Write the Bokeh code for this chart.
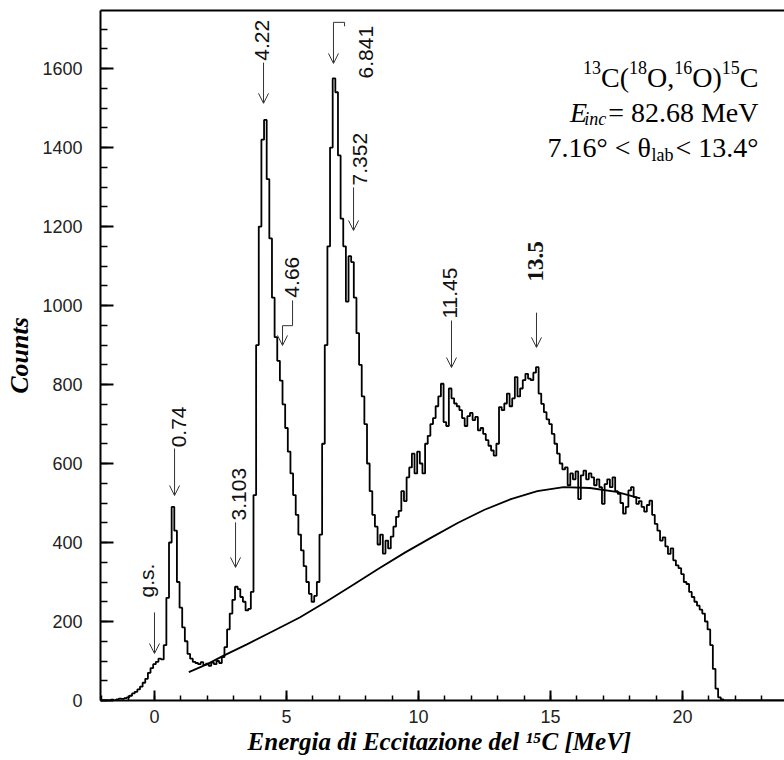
import math
from bokeh.plotting import figure
from bokeh.models import (ColumnDataSource, Range1d, SingleIntervalTicker, LinearAxis,
                          FixedTicker, Arrow, OpenHead)
from bokeh.core.properties import value
from bokeh.embed import file_html
from bokeh.resources import INLINE

# ---------------- data ----------------
first_bin = -2.0
bin_width = 0.1
counts = [
    0, 0, 0, 0, 2, 0, 3, 5, 4, 6,                      # -2.0 .. -1.1
    8, 12, 18, 22, 28, 35, 45, 55, 70, 82,              # -1.0 .. -0.1
    92, 98, 106, 104, 140, 260, 400, 490, 430, 300,     # 0.0 .. 0.9
    235, 185, 150, 118, 106, 98, 95, 92, 97, 90,        # 1.0 .. 1.9
    93, 88, 96, 92, 100, 95, 110, 135, 180, 220,        # 2.0 .. 2.9
    255, 288, 282, 262, 250, 228, 232, 275, 520, 900,   # 3.0 .. 3.9
    1200, 1420, 1470, 1320, 1170, 1020, 920, 860, 810, 750,  # 4.0 .. 4.9
    690, 630, 575, 520, 470, 420, 380, 340, 300, 270,   # 5.0 .. 5.9
    250, 265, 300, 420, 650, 900, 1150, 1400, 1575, 1540,  # 6.0 .. 6.9
    1380, 1220, 1150, 1010, 1125, 1110, 1020, 930, 850, 770,  # 7.0 .. 7.9
    700, 600, 530, 470, 440, 395, 420, 372, 405, 385,   # 8.0 .. 8.9
    415, 440, 465, 480, 530, 505, 565, 590, 625, 575,   # 9.0 .. 9.9
    630, 600, 575, 650, 670, 700, 715, 745, 770, 802,   # 10.0 .. 10.9
    705, 695, 790, 765, 752, 745, 735, 715, 695, 720,   # 11.0 .. 11.9
    728, 710, 718, 684, 690, 675, 659, 645, 633, 620,   # 12.0 .. 12.9
    650, 743, 735, 752, 777, 745, 765, 819, 770, 790,   # 13.0 .. 13.9
    811, 827, 815, 811, 830, 844, 777, 751, 730, 712,   # 14.0 .. 14.9
    700, 675, 650, 625, 600, 585, 590, 545, 575, 560,   # 15.0 .. 15.9
    580, 510, 570, 582, 560, 575, 565, 545, 560, 540,   # 16.0 .. 16.9
    498, 548, 560, 540, 565, 530, 523, 500, 473, 490,   # 17.0 .. 17.9
    532, 540, 515, 498, 505, 490, 478, 495, 506, 470,   # 18.0 .. 18.9
    447, 430, 405, 413, 390, 371, 385, 355, 342, 335,   # 19.0 .. 19.9
    320, 300, 295, 275, 262, 250, 240, 230, 220, 200,   # 20.0 .. 20.9
    180, 140, 80, 30, 8, 3, 0, 0, 0, 0,                 # 21.0 .. 21.9
    0, 0, 0, 0, 0, 0, 0, 0, 0, 0,                       # 22.0 .. 22.9
    0, 0, 0, 0, 0, 0, 0, 0, 0, 0,                       # 23.0 .. 23.9
]
energy = [round(first_bin + i * bin_width, 2) for i in range(len(counts))]

bg_energy = [1.3, 2.0, 2.6, 3.5, 4.5, 5.5, 6.5, 7.5, 8.5, 9.5, 10.5, 11.5,
             12.5, 13.5, 14.5, 15.5, 16.5, 17.5, 18.4]
bg_counts = [72, 92, 113, 142, 176, 210, 250, 292, 334, 375, 413, 450,
             483, 510, 530, 540, 538, 528, 512]

peak_labels = ["g.s.", "0.74", "3.103", "4.22", "4.66", "6.841", "7.352", "11.45"]
label_x = [-0.30, 0.91, 3.22, 4.09, 5.19, 8.03, 7.77, 11.21]
label_y = [261, 641, 456, 1620, 1020, 1575, 1304, 967]
bold_label = ["13.5"]
bold_label_x = [14.43]
bold_label_y = [1061]

arrow_x = [0.0, 0.76, 3.07, 4.13, 4.85, 6.78, 7.54, 11.25, 14.47]
arrow_top = [223, 638, 451, 1615, 949, 1717, 1299, 962, 982]
arrow_tip = [119, 519, 337, 1512, 899, 1613, 1190, 843, 894]

elbow_xs = [[5.23, 5.23, 4.85], [7.20, 7.20, 6.78]]
elbow_ys = [[1013, 949, 949], [1707, 1717, 1717]]

X_START, X_END = -2.045, 23.864
Y_END = 1747

# -------------- figure --------------
p = figure(width=784, height=760, output_backend="svg", toolbar_location=None,
           x_range=Range1d(X_START, X_END), y_range=Range1d(0, Y_END),
           min_border_left=100, min_border_right=0, min_border_top=10, min_border_bottom=60)
p.xgrid.visible = False
p.ygrid.visible = False
p.outline_line_color = None
p.background_fill_color = "white"

for ax in (p.xaxis[0], p.yaxis[0]):
    ax.axis_line_width = 2
    ax.axis_line_color = "black"
    ax.major_tick_line_width = 2
    ax.minor_tick_line_width = 1.5
    ax.major_tick_line_color = "black"
    ax.minor_tick_line_color = "black"
    ax.major_tick_out = 0
    ax.minor_tick_out = 0
    ax.major_label_text_font = "Liberation Sans"
    ax.major_label_text_font_size = "18px"
    ax.major_label_text_color = "#222222"
    ax.axis_label_text_font = "Liberation Serif"
    ax.axis_label_text_font_style = "bold italic"
    ax.axis_label_text_color = "black"

p.xaxis.ticker = SingleIntervalTicker(interval=5, num_minor_ticks=5)
p.yaxis.ticker = SingleIntervalTicker(interval=200, num_minor_ticks=4)
p.xaxis.major_tick_in = 10
p.xaxis.minor_tick_in = 5
p.yaxis.major_tick_in = 13
p.yaxis.minor_tick_in = 7
p.xaxis.major_label_standoff = 9
p.yaxis.major_label_standoff = 18
p.xaxis.axis_label = "Energia di Eccitazione del \u00b9\u2075C  [MeV]"
p.xaxis.axis_label_text_font_size = "25px"
p.xaxis.axis_label_standoff = 2
p.yaxis.axis_label = "Counts"
p.yaxis.axis_label_text_font_size = "26px"
p.yaxis.axis_label_standoff = 5

top = LinearAxis(ticker=FixedTicker(ticks=[]), major_label_text_font_size="0px",
                 major_tick_in=0, major_tick_out=0, minor_tick_in=0, minor_tick_out=0,
                 major_label_standoff=0, axis_line_width=2, axis_line_color="black")
p.add_layout(top, "above")

# histogram and background
p.step(energy, counts, mode="center", line_width=1.8, line_color="black")
p.line(bg_energy, bg_counts, line_width=1.8, line_color="black")

# arrows
for ax_, t_, e_ in zip(arrow_x, arrow_top, arrow_tip):
    p.add_layout(Arrow(end=OpenHead(size=10, line_width=1, line_color="#333333"),
                       x_start=ax_, y_start=t_, x_end=ax_, y_end=e_,
                       line_width=1, line_color="#333333"))
p.multi_line(elbow_xs, elbow_ys, line_width=1, line_color="#333333")

# peak labels
p.text(x=label_x, y=label_y, text=peak_labels, angle=math.pi / 2,
       text_align="left", text_baseline="middle",
       text_font=value("Liberation Sans"), text_font_size="21px", text_color="#111111")
p.text(x=bold_label_x, y=bold_label_y, text=bold_label, angle=math.pi / 2,
       text_align="left", text_baseline="middle",
       text_font=value("Liberation Serif"), text_font_size="23px",
       text_font_style="bold", text_color="#111111")

# -------- reaction annotation (upper right) --------
FL, FR, FT, FB = 100, 784, 10, 700   # frame edges, px


def px_x(px):
    return X_START + (px - FL) * (X_END - X_START) / (FR - FL)


def py_y(py):
    return (FB - py) * Y_END / (FB - FT)


WN = {'0': .5, '1': .5, '2': .5, '3': .5, '4': .5, '5': .5, '6': .5, '7': .5,
      '8': .5, '9': .5, '.': .25, ',': .25, ' ': .25, '(': .333, ')': .333,
      'C': .667, 'O': .722, '=': .564, '<': .564, '\u00b0': .4, 'M': .889,
      'e': .444, 'V': .722, '\u03b8': .5, 'l': .278, 'a': .444, 'b': .5}
WI = {'E': .611, 'i': .278, 'n': .5, 'c': .444}


def seg_w(text, size, style):
    tab = WI if style == "italic" else WN
    return sum(tab.get(ch, .5) for ch in text) * size


lines = [
    (77, [("13", 18, "normal", -10, 0), ("C(", 28, "normal", 0, 0),
          ("18", 18, "normal", -10, 0), ("O,", 28, "normal", 0, 0),
          ("16", 18, "normal", -10, 0), ("O)", 28, "normal", 0, 0),
          ("15", 18, "normal", -10, 0), ("C", 28, "normal", 0, 0)]),
    (112, [("E", 28, "italic", 0, -3), ("inc", 18, "italic", 6, 2),
           ("= 82.68 MeV", 28, "normal", 0, 0)]),
    (147, [("7.16\u00b0 < \u03b8", 28, "normal", 0, 0), ("lab", 18, "normal", 7, 2),
           ("< 13.4\u00b0", 28, "normal", 0, 0)]),
]
RIGHT_PX = 758
ann = dict(x=[], y=[], text=[], size=[], style=[])
for base, segs in lines:
    total = sum(seg_w(t, s, st) + adj for t, s, st, dy, adj in segs)
    cur = RIGHT_PX - total
    for t, s, st, dy, adj in segs:
        ann["x"].append(px_x(cur))
        ann["y"].append(py_y(base + dy))
        ann["text"].append(t)
        ann["size"].append(f"{s}px")
        ann["style"].append(st)
        cur += seg_w(t, s, st) + adj
p.text(x="x", y="y", text="text", source=ColumnDataSource(ann),
       text_font=value("Liberation Serif"), text_font_size="size",
       text_font_style="style", text_align="left", text_baseline="alphabetic",
       text_color="black")

open("out.html", "w").write(file_html(p, INLINE))
